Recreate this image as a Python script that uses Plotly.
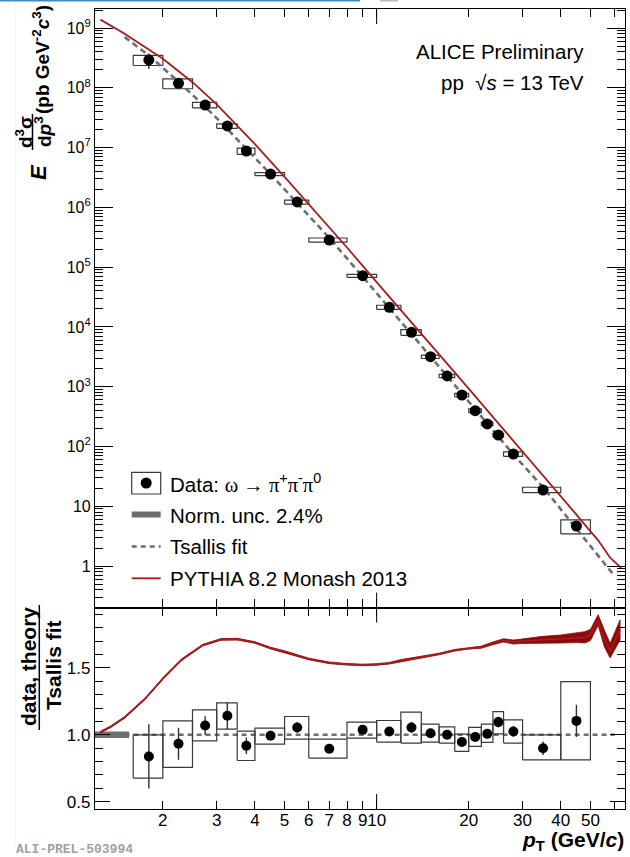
import plotly.graph_objects as go

# ---------------- data: omega -> pi+ pi- pi0, pp at sqrt(s) = 13 TeV ----------------
pt = [1.8, 2.25, 2.75, 3.25, 3.75, 4.5, 5.5, 7.0, 9.0, 11, 13, 15, 17, 19, 21, 23, 25, 28, 35, 45]
pt_lo = [1.6, 2.0, 2.5, 3.0, 3.5, 4.0, 5.0, 6.0, 8.0, 10, 12, 14, 16, 18, 20, 22, 24, 26, 30, 40]
pt_hi = [2.0, 2.5, 3.0, 3.5, 4.0, 5.0, 6.0, 8.0, 10, 12, 14, 16, 18, 20, 22, 24, 26, 30, 40, 50]
xsec = [2.92e8, 1.19e8, 5.15e7, 2.30e7, 8.76e6, 3.61e6, 1.23e6, 2.84e5, 7.18e4, 2.13e4,
        8.12e3, 3.17e3, 1.51e3, 726, 396, 238, 155, 74.8, 18.7, 4.67]

# data / Tsallis fit, statistical error and systematic box edges
ratio = [0.838, 0.933, 1.069, 1.142, 0.918, 0.993, 1.055, 0.896, 1.037, 1.025,
         1.055, 1.012, 1.000, 0.946, 0.983, 1.007, 1.095, 1.025, 0.900, 1.104]
ratio_stat = [0.24, 0.12, 0.07, 0.10, 0.062, 0.03, 0.04, 0.01, 0.02, 0.02,
              0.04, 0.02, 0.02, 0.02, 0.03, 0.03, 0.04, 0.04, 0.05, 0.12]
ratio_sys_lo = [0.677, 0.756, 0.955, 1.042, 0.808, 0.930, 0.968, 0.826, 0.975, 0.946,
                0.938, 0.946, 0.938, 0.876, 0.913, 0.943, 1.007, 0.938, 0.813, 0.813]
ratio_sys_hi = [1.000, 1.104, 1.187, 1.239, 1.028, 1.050, 1.137, 0.968, 1.095, 1.107,
                1.169, 1.080, 1.060, 1.005, 1.055, 1.080, 1.174, 1.112, 1.000, 1.398]

# Tsallis fit curve
fit_pt = [1.5, 1.8, 2.25, 2.75, 3.25, 3.75, 4.5, 5.5, 7, 9, 11, 13, 15, 17, 19, 21, 23,
          25, 28, 35, 45, 50, 55, 60]
fit_val = [7.08e8, 3.47e8, 1.26e8, 4.84e7, 2.04e7, 9.55e6, 3.59e6, 1.175e6, 3.09e5, 6.92e4,
           2.09e4, 7.67e3, 3.16e3, 1.50e3, 767, 417, 240, 145, 73.3, 20.8, 4.23, 2.14,
           1.19, 0.676]

# PYTHIA 8.2 Monash 2013 spectrum
py_pt = [1.25, 1.5, 2, 2.5, 3, 3.5, 4, 5, 6, 7, 8, 10, 12, 15, 20, 25, 30, 40, 45, 50,
         53, 58, 63]
py_val = [1.38e9, 8.0e8, 3.05e8, 1.24e8, 5.27e7, 2.36e7, 1.14e7, 3.24e6, 1.14e6, 4.75e5,
          2.13e5, 5.62e4, 1.93e4, 5.04e3, 925, 244, 82.8, 15.2, 7.24, 3.80, 2.69, 1.38, 0.93]

# PYTHIA / Tsallis fit with its statistical band
pyr_pt = [1.25, 1.35, 1.5, 1.75, 2.0, 2.3, 2.7, 3.1, 3.5, 4.0, 4.5, 5.0, 6.0, 7.0, 8.0,
          9.0, 10, 11, 12, 14, 16, 18, 20, 22, 24, 26, 28, 30, 35, 40, 45, 48, 50, 53,
          55.5, 58, 62.5]
pyr = [1.02, 1.06, 1.13, 1.27, 1.42, 1.56, 1.67, 1.713, 1.715, 1.69, 1.648, 1.622, 1.567,
       1.538, 1.527, 1.522, 1.526, 1.535, 1.556, 1.58, 1.604, 1.632, 1.647, 1.655, 1.684,
       1.706, 1.693, 1.70, 1.711, 1.716, 1.726, 1.729, 1.746, 1.858, 1.721, 1.629, 1.784]
pyr_err = [0.006, 0.006, 0.006, 0.006, 0.006, 0.006, 0.006, 0.006, 0.006, 0.006, 0.006,
           0.006, 0.006, 0.006, 0.006, 0.006, 0.006, 0.006, 0.006, 0.006, 0.006, 0.006,
           0.006, 0.008, 0.010, 0.012, 0.015, 0.017, 0.025, 0.030, 0.037, 0.042, 0.042,
           0.040, 0.062, 0.055, 0.075]

norm_unc = 0.024
norm_pt = [1.2, 1.55]

# axis ticks
x_tickvals = [2, 3, 4, 5, 6, 7, 8, 9, 10, 20, 30, 40, 50, 60]
x_ticktext = ["2", "3", "4", "5", "6", "7", "8", "9", "10", "20", "30", "40", "50", ""]
y_tickvals = [1, 10, 1e2, 1e3, 1e4, 1e5, 1e6, 1e7, 1e8, 1e9]
y_ticktext = ["1", "10", "10<sup>2</sup>", "10<sup>3</sup>", "10<sup>4</sup>", "10<sup>5</sup>",
              "10<sup>6</sup>", "10<sup>7</sup>", "10<sup>8</sup>", "10<sup>9</sup>"]
r_tickvals = [0.5, 1.0, 1.5]
r_ticktext = ["0.5", "1.0", "1.5"]

# ---------------- styling ----------------
FONT = "Liberation Sans, Arial, sans-serif"
RED = "#a51d1d"
RED_BAND = "#8c0a0a"
GREY = "#6e6e6e"
BOX = "#3a3a3a"

W, H = 630, 857
L, R, T, B = 95, 625, 9, 809
SPLIT = 607.5


def fx(px):
    return (px - L) / (R - L)


def fy(py):
    return (B - py) / (B - T)


def box_path(x0s, x1s, y0s, y1s):
    xs, ys = [], []
    for a, b, c, d in zip(x0s, x1s, y0s, y1s):
        xs += [a, b, b, a, a, None]
        ys += [c, c, d, d, c, None]
    return xs, ys


fig = go.Figure()

# ---------------- upper panel: spectrum ----------------
up_lo = [v * lo / r for v, lo, r in zip(xsec, ratio_sys_lo, ratio)]
up_hi = [v * hi / r for v, hi, r in zip(xsec, ratio_sys_hi, ratio)]
up_err = [v * s / r for v, s, r in zip(xsec, ratio_stat, ratio)]
bx, by = box_path(pt_lo, pt_hi, up_lo, up_hi)
fig.add_trace(go.Scatter(x=bx, y=by, mode="lines", line=dict(color=BOX, width=1.2),
                         xaxis="x", yaxis="y", hoverinfo="skip"))
fig.add_trace(go.Scatter(x=fit_pt, y=fit_val, mode="lines",
                         line=dict(color=GREY, width=2.6, dash="6px,4px"),
                         xaxis="x", yaxis="y"))
fig.add_trace(go.Scatter(x=py_pt, y=py_val, mode="lines", line=dict(color=RED, width=1.8),
                         xaxis="x", yaxis="y"))
fig.add_trace(go.Scatter(x=pt, y=xsec, mode="markers",
                         marker=dict(color="black", size=11),
                         error_y=dict(type="data", array=up_err, color="#222222",
                                      thickness=1.4, width=0),
                         xaxis="x", yaxis="y"))

# ---------------- lower panel: ratio to Tsallis fit ----------------
fig.add_trace(go.Scatter(x=[fit_pt[0], fit_pt[-1]], y=[1, 1], mode="lines",
                         line=dict(color=GREY, width=2.4, dash="5px,4px"),
                         xaxis="x2", yaxis="y2"))
fig.add_trace(go.Scatter(x=[norm_pt[0], norm_pt[1], norm_pt[1], norm_pt[0], norm_pt[0]],
                         y=[1 - norm_unc, 1 - norm_unc, 1 + norm_unc, 1 + norm_unc, 1 - norm_unc],
                         mode="lines", fill="toself", fillcolor=GREY, line=dict(width=0),
                         xaxis="x2", yaxis="y2"))
band_x = pyr_pt + pyr_pt[::-1]
band_y = [c + e for c, e in zip(pyr, pyr_err)] + [c - e for c, e in zip(pyr, pyr_err)][::-1]
fig.add_trace(go.Scatter(x=band_x, y=band_y, mode="lines", fill="toself",
                         fillcolor=RED_BAND, line=dict(width=0.8, color=RED_BAND),
                         xaxis="x2", yaxis="y2"))
fig.add_trace(go.Scatter(x=pyr_pt, y=pyr, mode="lines", line=dict(color=RED, width=1.6),
                         xaxis="x2", yaxis="y2"))
rbx, rby = box_path(pt_lo, pt_hi, ratio_sys_lo, ratio_sys_hi)
fig.add_trace(go.Scatter(x=rbx, y=rby, mode="lines", line=dict(color=BOX, width=1.2),
                         xaxis="x2", yaxis="y2"))
fig.add_trace(go.Scatter(x=pt, y=ratio, mode="markers",
                         marker=dict(color="black", size=10),
                         error_y=dict(type="data", array=ratio_stat, color="#333333",
                                      thickness=1.4, width=0),
                         xaxis="x2", yaxis="y2"))

# ---------------- axes ----------------
frame = dict(showline=True, linecolor="black", linewidth=1.2, mirror="allticks",
             ticks="inside", tickcolor="black", tickwidth=1, showgrid=False,
             zeroline=False)
split = fy(SPLIT)
x_range = [0.0792, 1.812]

y_minor = [m * 10.0 ** k for k in range(-1, 10) for m in range(2, 10)]

fig.update_layout(
    width=W, height=H,
    margin=dict(l=L, r=W - R, t=T, b=H - B),
    paper_bgcolor="white", plot_bgcolor="white",
    showlegend=False,
    font=dict(family=FONT, color="black"),
    xaxis=dict(frame, type="log", range=x_range, anchor="y", domain=[0, 1],
               tickvals=x_tickvals, ticktext=x_ticktext, ticklen=8,
               showticklabels=False),
    yaxis=dict(frame, type="log", range=[-0.694, 9.318], anchor="x", domain=[split, 1],
               tickvals=y_tickvals, ticktext=y_ticktext, ticklen=18,
               tickfont=dict(size=16),
               minor=dict(tickvals=y_minor, ticklen=8, ticks="inside",
                          tickcolor="black", tickwidth=1)),
    xaxis2=dict(frame, type="log", range=x_range, anchor="y2", domain=[0, 1],
                tickvals=x_tickvals, ticktext=x_ticktext, ticklen=8, tickangle=0,
                ticklabelstandoff=-5, tickfont=dict(size=17), matches="x"),
    yaxis2=dict(frame, range=[0.4455, 1.9515], anchor="x2", domain=[0, split],
                tickvals=r_tickvals, ticktext=r_ticktext, ticklen=15,
                tickfont=dict(size=17),
                minor=dict(dtick=0.1, ticklen=8, ticks="inside",
                           tickcolor="black", tickwidth=1)),
)

shapes = []
# longer tick at pT = 10 on both panels
lw = dict(color="black", width=1)
up_len = 15 / (SPLIT - T)
lo_len = 15 / (B - SPLIT)
for yref, ln in (("y domain", up_len), ("y2 domain", lo_len)):
    xref = "x" if yref == "y domain" else "x2"
    shapes.append(dict(type="line", xref=xref, yref=yref, x0=10, x1=10, y0=0, y1=ln, line=lw))
    shapes.append(dict(type="line", xref=xref, yref=yref, x0=10, x1=10, y0=1, y1=1 - ln, line=lw))

# legend keys
shapes += [
    dict(type="rect", xref="paper", yref="paper", x0=fx(131.7), x1=fx(160.7),
         y0=fy(494), y1=fy(472.3), line=dict(color=BOX, width=1.2), fillcolor="white"),
    dict(type="circle", xref="paper", yref="paper", x0=fx(140.7), x1=fx(151.7),
         y0=fy(488.5), y1=fy(477.5), line=dict(color="black", width=0), fillcolor="black"),
    dict(type="rect", xref="paper", yref="paper", x0=fx(131.7), x1=fx(160.7),
         y0=fy(517.5), y1=fy(511.5), line=dict(width=0), fillcolor=GREY),
    dict(type="line", xref="paper", yref="paper", x0=fx(131.7), x1=fx(160.7),
         y0=fy(546.5), y1=fy(546.5), line=dict(color=GREY, width=2.4, dash="5px,4px")),
    dict(type="line", xref="paper", yref="paper", x0=fx(131.7), x1=fx(160.7),
         y0=fy(578.3), y1=fy(578.3), line=dict(color=RED, width=1.8)),
]
# fraction bars of the axis titles
shapes += [
    dict(type="line", xref="paper", yref="paper", x0=fx(32.5), x1=fx(32.5),
         y0=fy(150), y1=fy(114), line=dict(color="black", width=1.5)),
    dict(type="line", xref="paper", yref="paper", x0=fx(39.3), x1=fx(39.3),
         y0=fy(730), y1=fy(605), line=dict(color="black", width=1.5)),
]
# page decorations
shapes += [
    dict(type="rect", xref="paper", yref="paper", x0=fx(0), x1=fx(360), y0=fy(1.5), y1=fy(0),
         line=dict(width=0), fillcolor="#3d8cc4"),
    dict(type="rect", xref="paper", yref="paper", x0=fx(380), x1=fx(398), y0=fy(1.5), y1=fy(0),
         line=dict(width=0), fillcolor="#b8b8b8"),
    dict(type="line", xref="paper", yref="paper", x0=fx(15), x1=fx(15), y0=fy(845), y1=fy(2),
         line=dict(color="#f0f0f0", width=1)),
]
fig.update_layout(shapes=shapes)


def note(px, py, text, size, xanchor="center", yanchor="middle", angle=0, color="black",
         family=FONT):
    return dict(x=fx(px), y=fy(py), xref="paper", yref="paper", text=text, showarrow=False,
                xanchor=xanchor, yanchor=yanchor, textangle=angle,
                font=dict(size=size, color=color, family=family))


annotations = [
    note(586, 52, "ALICE Preliminary", 20.5, xanchor="right"),
    note(586, 82, "pp  √<i>s</i> = 13 TeV", 20.5, xanchor="right"),
    note(168, 483, "Data: <span style=\"font-family:'Liberation Serif'\">ω → π</span>"
                   "<sup>+</sup><span style=\"font-family:'Liberation Serif'\">π</span>"
                   "<sup>-</sup><span style=\"font-family:'Liberation Serif'\">π</span>"
                   "<sup>0</sup>", 20.5, xanchor="left"),
    note(168, 515, "Norm. unc. 2.4%", 20.5, xanchor="left"),
    note(168, 546, "Tsallis fit", 20.5, xanchor="left"),
    note(168, 578, "PYTHIA 8.2 Monash 2013", 20.5, xanchor="left"),
    # spectrum axis title
    note(41, 60, "<b>(pb GeV<sup>-2</sup><i>c</i><sup>3</sup>)</b>", 19, angle=-90),
    note(24, 132, "<b>d<sup>3</sup>σ</b>", 19, angle=-90),
    note(43, 132, "<b>d<i>p</i><sup>3</sup></b>", 19, angle=-90),
    note(38, 172, "<b><i>E</i></b>", 22, angle=-90),
    # ratio axis title
    note(28, 667, "<b>data, theory</b>", 21, angle=-90),
    note(53, 666, "<b>Tsallis fit</b>", 21, angle=-90),
    # pT axis title
    note(626, 841, "<b><i>p</i><sub>T</sub> (GeV/<i>c</i>)</b>", 21, xanchor="right"),
    note(14, 849, "<b>ALI-PREL-503994</b>", 13, xanchor="left", color="#a0a0a0",
         family="Liberation Mono, DejaVu Sans Mono, monospace"),
]
fig.update_layout(annotations=annotations)

fig.write_html("out.html")
